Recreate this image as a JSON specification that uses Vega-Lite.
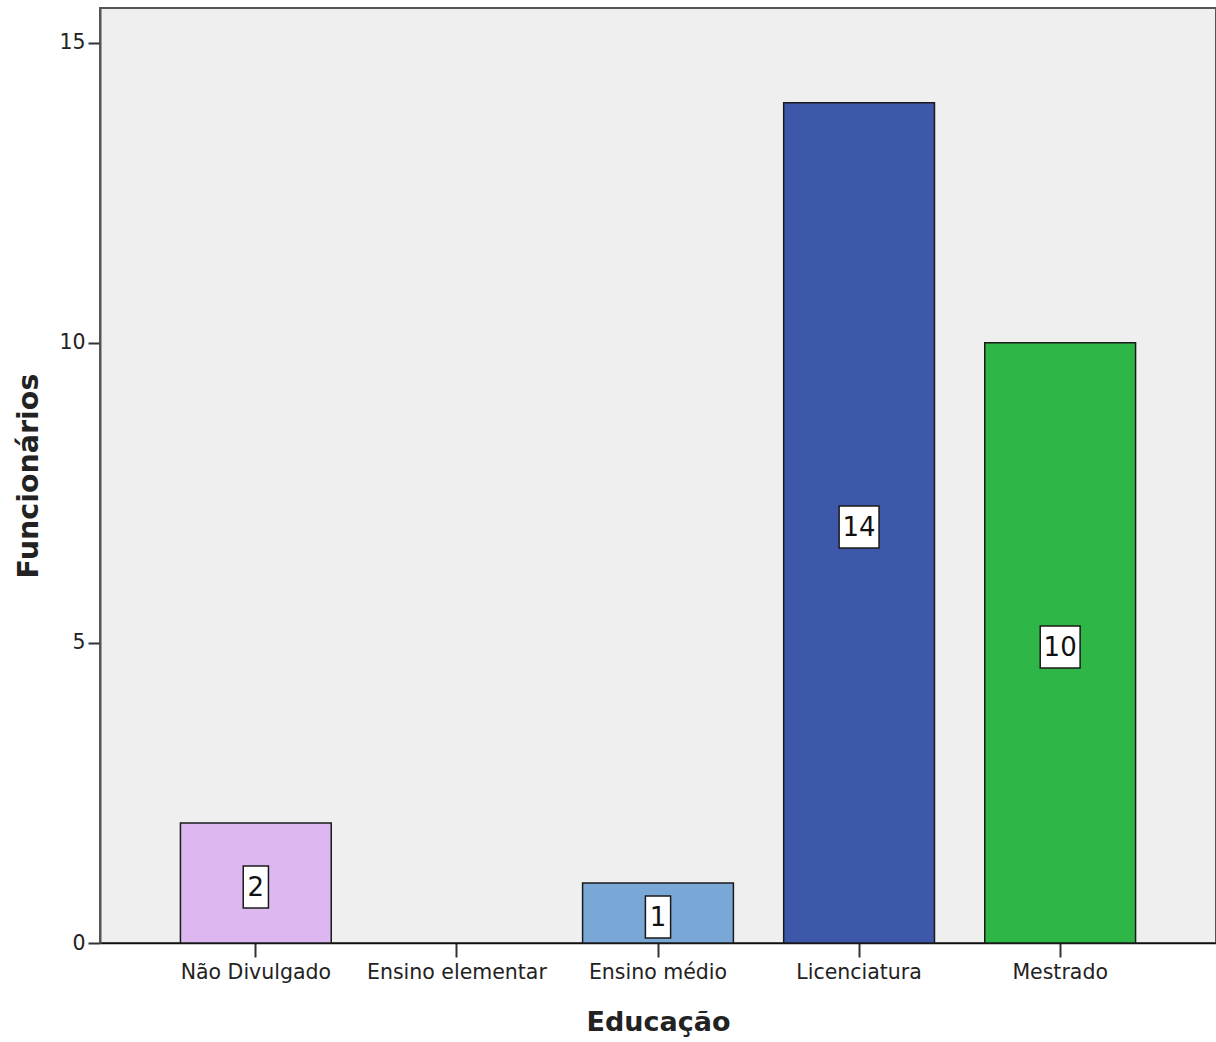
{
  "$schema": "https://vega.github.io/schema/vega-lite/v6.json",
  "width": 1116,
  "height": 935,
  "autosize": {"type": "none"},
  "padding": {"left": 100, "top": 8, "right": 0, "bottom": 99},
  "background": "white",
  "config": {
    "font": "DejaVu Sans",
    "view": {"fill": "#efefef", "stroke": "#555555", "strokeWidth": 2}
  },
  "data": {
    "values": [
      {"Educacao": "Não Divulgado", "value": 2},
      {"Educacao": "Ensino elementar", "value": 0},
      {"Educacao": "Ensino médio", "value": 1},
      {"Educacao": "Licenciatura", "value": 14},
      {"Educacao": "Mestrado", "value": 10}
    ]
  },
  "encoding": {
    "x": {
      "field": "Educacao",
      "type": "nominal",
      "sort": null,
      "scale": {
        "domain": ["Não Divulgado", "Ensino elementar", "Ensino médio", "Licenciatura", "Mestrado"],
        "paddingInner": 0.25,
        "paddingOuter": 0.4
      },
      "axis": {
        "title": "Educação",
        "titleFontSize": 27,
        "titleFontWeight": "bold",
        "titleColor": "#222222",
        "titlePadding": 27,
        "labelAngle": 0,
        "labelFontSize": 20.5,
        "labelColor": "#222222",
        "labelPadding": 5,
        "tickSize": 14,
        "tickWidth": 2,
        "tickColor": "#333333",
        "domainColor": "#111111",
        "domainWidth": 1.5
      }
    }
  },
  "layer": [
    {
      "transform": [{"filter": "datum.value > 0"}],
      "mark": {"type": "bar", "stroke": "#1a1a1a", "strokeWidth": 1.5},
      "encoding": {
        "y": {
          "field": "value",
          "type": "quantitative",
          "scale": {"domain": [0, 15.58], "nice": false},
          "axis": {
            "title": "Funcionários",
            "titleFontSize": 28.5,
            "titleFontWeight": "bold",
            "titleColor": "#222222",
            "titlePadding": 15,
            "values": [0, 5, 10, 15],
            "grid": false,
            "labelFontSize": 20.5,
            "labelColor": "#222222",
            "labelPadding": 3,
            "tickSize": 12,
            "tickWidth": 2,
            "tickColor": "#333333",
            "domainColor": "#555555",
            "domainWidth": 2
          }
        },
        "color": {
          "field": "Educacao",
          "type": "nominal",
          "scale": {
            "domain": ["Não Divulgado", "Ensino elementar", "Ensino médio", "Licenciatura", "Mestrado"],
            "range": ["#dcb7f0", "#d9a441", "#79a8d6", "#3d57a9", "#2eb747"]
          },
          "legend": null
        }
      }
    },
    {
      "transform": [{"filter": "datum.value > 0 && datum.value < 10"}],
      "mark": {
        "type": "point",
        "shape": "M-0.6,-1L0.6,-1L0.6,1L-0.6,1Z",
        "size": 1764,
        "filled": true,
        "fill": "white",
        "stroke": "#1a1a1a",
        "strokeWidth": 1.5,
        "opacity": 1,
        "yOffset": 4
      },
      "encoding": {
        "y": {"field": "value", "type": "quantitative", "scale": {"domain": [0, 31.16], "nice": false}, "axis": null}
      }
    },
    {
      "transform": [{"filter": "datum.value >= 10"}],
      "mark": {
        "type": "point",
        "shape": "M-0.95,-1L0.95,-1L0.95,1L-0.95,1Z",
        "size": 1764,
        "filled": true,
        "fill": "white",
        "stroke": "#1a1a1a",
        "strokeWidth": 1.5,
        "opacity": 1,
        "yOffset": 4
      },
      "encoding": {
        "y": {"field": "value", "type": "quantitative", "scale": {"domain": [0, 31.16], "nice": false}, "axis": null}
      }
    },
    {
      "transform": [{"filter": "datum.value > 0"}],
      "mark": {
        "type": "text",
        "fontSize": 26,
        "color": "#111111",
        "baseline": "middle",
        "align": "center",
        "yOffset": 5
      },
      "encoding": {
        "y": {"field": "value", "type": "quantitative", "scale": {"domain": [0, 31.16], "nice": false}, "axis": null},
        "text": {"field": "value", "type": "quantitative"}
      }
    }
  ],
  "resolve": {"scale": {"y": "independent"}}
}
